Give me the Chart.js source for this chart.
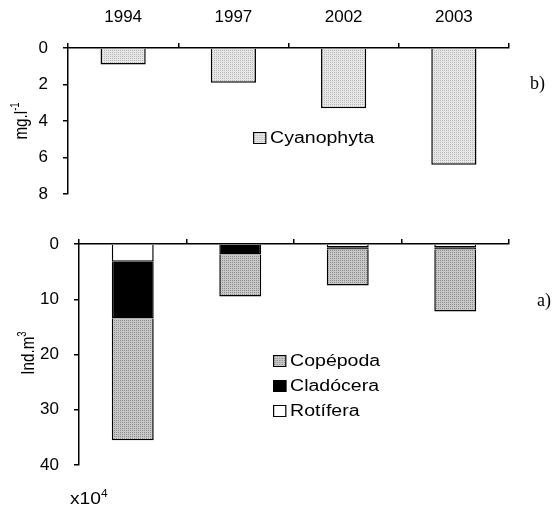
<!DOCTYPE html>
<html>
<head>
<meta charset="utf-8">
<script src="https://cdn.jsdelivr.net/npm/chart.js@4.4.1/dist/chart.umd.min.js"></script>
<style>
  body { margin: 0; background: #fff; font-family: "Liberation Sans", Arial, sans-serif; }
  #wrap { position: relative; width: 553px; height: 506px; overflow: hidden; }
  canvas { position: absolute; left: 0; }
  .lbl { position: absolute; font-size: 16px; color: #000; white-space: nowrap; }
  .rot { transform: translate(-50%, -50%) rotate(-90deg) scaleX(0.95) scaleY(1.2); }
  .wide { transform: scaleX(1.2); transform-origin: left center; }
  .serif { font-family: "Liberation Serif", "Times New Roman", serif; font-size: 18px; }
  .legend { position: absolute; font-size: 16px; transform: scaleX(1.22); transform-origin: left top; }
  .legend div { height: 25px; line-height: 25px; display: flex; align-items: center; }
  .legend span.sw { display: inline-block; width: 9px; height: 10px; border: 1px solid #000; margin-right: 3px; }
  sup { font-size: 10px; vertical-align: 7px; line-height: 0; }
</style>
</head>
<body>
<div id="wrap">
  <canvas id="chartB" width="553" height="210" style="top:0"></canvas>
  <canvas id="chartA" width="553" height="296" style="top:210px"></canvas>
  <div class="lbl rot" style="left:21px; top:121px">mg.l<sup>-1</sup></div>
  <div class="lbl rot" style="left:28px; top:353px">Ind.m<sup>3</sup></div>
  <div class="lbl serif" style="left:530px; top:73px">b)</div>
  <div class="lbl serif" style="left:537px; top:290px">a)</div>
  <div class="lbl wide" style="left:70px; top:490px">x10<sup>4</sup></div>
  <div id="legendB" class="legend" style="left:253px; top:125px"></div>
  <div id="legendA" class="legend" style="left:273px; top:348px"></div>
</div>
<script>
const years = ['1994', '1997', '2002', '2003'];

// b) phytoplankton biomass, mg.l-1
const cyanophyta = [0.9, 1.9, 3.3, 6.4];

// a) zooplankton density, Ind.m3 x10^4
const rotifera = [3.2, 0, 0.6, 0.6];
const cladocera = [10.3, 1.9, 0.4, 0.4];
const copepoda = [22.0, 7.6, 6.5, 11.2];

const ticksB = [0, 2, 4, 6, 8];
const ticksA = [0, 10, 20, 30, 40];

// small dotted tile like the old excel fill
function makeTile(c1, c2) {
  const t = document.createElement('canvas');
  t.width = 2; t.height = 2;
  const g = t.getContext('2d');
  g.fillStyle = c1; g.fillRect(0, 0, 2, 2);
  g.fillStyle = c2; g.fillRect(0, 0, 1, 1);
  return t;
}

const tileLight = makeTile('#e6e6e6', '#b8b8b8');
const tileDark = makeTile('#c8c8c8', '#8c8c8c');
const ctxB = document.getElementById('chartB').getContext('2d');
const ctxA = document.getElementById('chartA').getContext('2d');
const fillLight = ctxB.createPattern(tileLight, 'repeat');
const fillDark = ctxA.createPattern(tileDark, 'repeat');

const tickFont = { family: '"Liberation Sans", Arial, sans-serif', size: 17 };

function xScale(showLabels, h) {
  return {
    position: 'top',
    stacked: true,
    border: { color: '#000', width: 1.5 },
    grid: { drawOnChartArea: false, color: '#000', lineWidth: 1.5, tickLength: 5 },
    ticks: { display: showLabels, color: '#000', font: tickFont, padding: 15, maxRotation: 0 },
    afterFit: s => { s.height = h; s.paddingLeft = 0; s.paddingRight = 0; }
  };
}

function yScale(max, w, tickVals) {
  return {
    reverse: true,
    stacked: true,
    min: 0,
    max: max,
    border: { color: '#000', width: 1.5 },
    grid: { drawOnChartArea: false, color: '#000', lineWidth: 1.5, tickLength: 5 },
    afterBuildTicks: s => { s.ticks = tickVals.map(v => ({ value: v })); },
    ticks: { color: '#000', font: tickFont, padding: 15 },
    afterFit: s => { s.width = w; s.paddingTop = 0; s.paddingBottom = 0; }
  };
}

const chartB = new Chart(ctxB, {
  type: 'bar',
  data: {
    labels: years,
    datasets: [{
      label: 'Cyanophyta',
      data: cyanophyta,
      backgroundColor: fillLight,
      borderColor: '#000',
      borderWidth: 1.5,
      borderSkipped: 'start',
      barPercentage: 0.41,
      categoryPercentage: 1
    }]
  },
  options: {
    responsive: false,
    devicePixelRatio: 1,
    animation: false,
    layout: { padding: { left: 0, right: 44, top: 0, bottom: 16 } },
    plugins: { legend: { display: false }, tooltip: { enabled: false } },
    scales: { x: xScale(true, 48), y: yScale(8, 68, ticksB) }
  }
});

const chartA = new Chart(ctxA, {
  type: 'bar',
  data: {
    labels: years,
    datasets: [
      { label: 'Rotífera', data: rotifera, backgroundColor: '#fff' },
      { label: 'Cladócera', data: cladocera, backgroundColor: '#000' },
      { label: 'Copépoda', data: copepoda, backgroundColor: fillDark }
    ].map(d => Object.assign(d, {
      borderColor: '#000', borderWidth: 1.5, borderSkipped: 'start',
      barPercentage: 0.39, categoryPercentage: 1
    }))
  },
  options: {
    responsive: false,
    devicePixelRatio: 1,
    animation: false,
    layout: { padding: { left: 0, right: 44, top: 0, bottom: 41 } },
    plugins: { legend: { display: false }, tooltip: { enabled: false } },
    scales: { x: xScale(false, 34), y: yScale(40, 79, ticksA) }
  }
});

// html legends, built from the datasets (reverse order like the original)
function buildLegend(chart, id, tiles) {
  const box = document.getElementById(id);
  chart.data.datasets.slice().reverse().forEach(ds => {
    const row = document.createElement('div');
    const sw = document.createElement('span');
    sw.className = 'sw';
    if (tiles[ds.label]) sw.style.backgroundImage = 'url(' + tiles[ds.label].toDataURL() + ')';
    else sw.style.background = ds.backgroundColor;
    row.appendChild(sw);
    row.appendChild(document.createTextNode(ds.label));
    box.appendChild(row);
  });
}

buildLegend(chartB, 'legendB', { 'Cyanophyta': tileLight });
buildLegend(chartA, 'legendA', { 'Copépoda': tileDark });
</script>
</body>
</html>
